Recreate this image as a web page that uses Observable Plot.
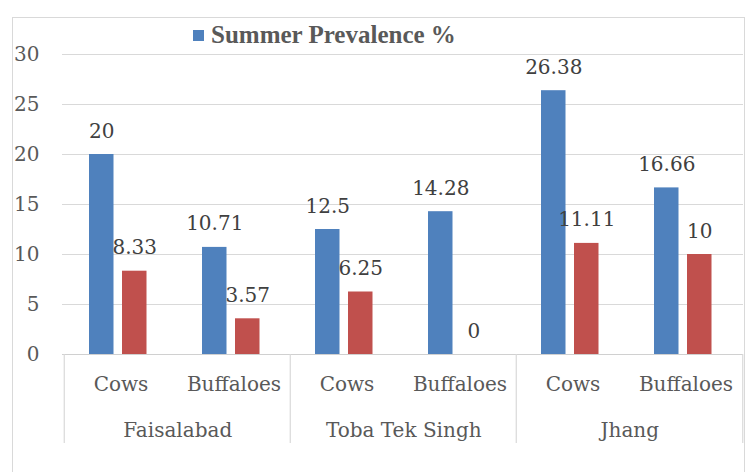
<!DOCTYPE html>
<html>
<head>
<meta charset="utf-8">
<script src="https://cdn.jsdelivr.net/npm/d3@7"></script>
<script src="https://cdn.jsdelivr.net/npm/@observablehq/plot@0.6"></script>
<style>
  html, body { margin: 0; padding: 0; background: #fff; }
  #chart { position: relative; width: 746px; height: 472px; overflow: hidden; }
  #frame { position: absolute; left: 12px; top: 17px; width: 731px; height: 470px; border: 1px solid #d9d9d9; }
  #legend { position: absolute; left: 193px; top: 20px; height: 30px; display: flex; align-items: center;
            font: bold 25px "Liberation Serif", serif; color: #595959; white-space: nowrap; }
  #legend .sw { display: inline-block; width: 11px; height: 11px; background: #4f81bd; margin-right: 7px; }
  #chart svg { position: absolute; left: 0; top: 0; }
  #chart svg text { font-family: "DejaVu Serif", serif !important; }
</style>
</head>
<body>
<div id="chart">
  <div id="frame"></div>
  <div id="legend"><span class="sw"></span>Summer Prevalence %</div>
</div>
<script>
// Districts and animal groups along the x axis
const regions = ["Faisalabad", "Toba Tek Singh", "Jhang"];
const animals = ["Cows", "Buffaloes"];
// Prevalence (%) per district/animal, in the order above
const summer = [20, 10.71, 12.5, 14.28, 26.38, 16.66];
const winter = [8.33, 3.57, 6.25, 0, 11.11, 10];
// Value axis ticks
const yTicks = [0, 5, 10, 15, 20, 25, 30];

const rows = regions.flatMap((region, i) =>
  animals.map((animal, j) => {
    const k = i * animals.length + j;
    return { key: region + "|" + animal, region, animal, summer: summer[k], winter: winter[k] };
  })
);
const keys = rows.map(d => d.key);

const W = 746, H = 472, ml = 62, mr = 3, mt = 54, mb = 118;
const step = (W - ml - mr) / keys.length;
const frameH = H - mt - mb;

const blue = "#4f81bd", red = "#c0504d";
const fs = 20;

const chart = Plot.plot({
  width: W,
  height: H,
  marginLeft: ml,
  marginRight: mr,
  marginTop: mt,
  marginBottom: mb,
  style: { fontSize: fs + "px", color: "#595959", background: "transparent", overflow: "visible" },
  x: { domain: keys, padding: 0, axis: null },
  y: { domain: [0, 30], axis: null },
  marks: [
    // horizontal gridlines
    Plot.ruleY(yTicks.filter(t => t > 0), { stroke: "#d9d9d9", strokeWidth: 1.2 }),
    // paired bars within each category band
    Plot.barY(rows, { x: "key", y: "summer", fill: blue, insetLeft: 25, insetRight: step - 50 }),
    Plot.barY(rows, { x: "key", y: "winter", fill: red, insetLeft: 58, insetRight: step - 83 }),
    // baseline
    Plot.ruleY([0], { stroke: "#d0d0d0", strokeWidth: 1.2 }),
    // group separators below the baseline
    Plot.ruleX(rows.filter(d => d.animal === animals[0]), {
      x: "key", dx: -step / 2, insetTop: frameH, insetBottom: -89, stroke: "#d9d9d9", strokeWidth: 1.2
    }),
    Plot.ruleX(rows.slice(-1), {
      x: "key", dx: step / 2, insetTop: frameH, insetBottom: -89, stroke: "#d9d9d9", strokeWidth: 1.2
    }),
    // value axis labels
    Plot.axisY({ ticks: yTicks, tickSize: 0, tickPadding: 23, fontSize: fs, fill: "#595959" }),
    // value labels above each bar
    Plot.text(rows, {
      x: "key", y: "summer", text: d => String(d.summer), dx: 37.5 - step / 2, dy: -17,
      lineAnchor: "bottom", fontSize: fs, fill: "#404040"
    }),
    Plot.text(rows, {
      x: "key", y: "winter", text: d => String(d.winter), dx: 70.5 - step / 2, dy: -17,
      lineAnchor: "bottom", fontSize: fs, fill: "#404040"
    }),
    // animal labels
    Plot.text(rows, {
      x: "key", text: "animal", frameAnchor: "bottom", dy: 36, lineAnchor: "bottom",
      fontSize: fs, fill: "#595959"
    }),
    // district labels
    Plot.text(rows.filter(d => d.animal === animals[0]), {
      x: "key", text: "region", dx: step / 2, frameAnchor: "bottom", dy: 82, lineAnchor: "bottom",
      fontSize: fs, fill: "#595959"
    })
  ]
});

document.getElementById("chart").appendChild(chart);
</script>
</body>
</html>
